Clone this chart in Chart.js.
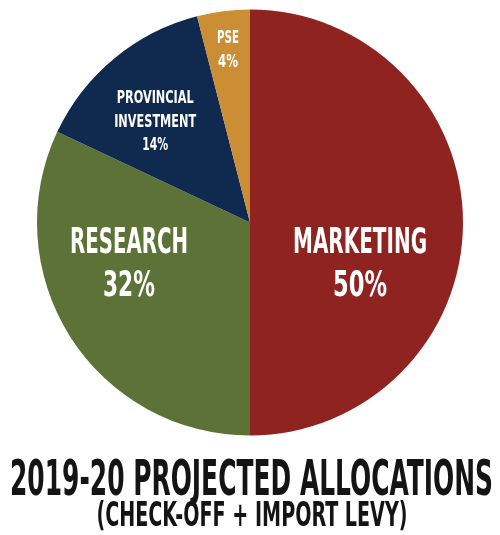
<!DOCTYPE html>
<html>
<head>
<meta charset="utf-8">
<script src="https://cdn.jsdelivr.net/npm/chart.js@4/dist/chart.umd.min.js"></script>
<style>
  html, body { margin: 0; padding: 0; background: #fff; }
  #wrap { width: 500px; height: 535px; position: relative; }
</style>
</head>
<body>
<div id="wrap"><canvas id="chart"></canvas></div>
<script>
// data
const categories = ["MARKETING", "RESEARCH", "PROVINCIAL INVESTMENT", "PSE"];
const shares = [50, 32, 14, 4];
const title = "2019-20 PROJECTED ALLOCATIONS";
const subtitle = "(CHECK-OFF + IMPORT LEVY)";

// styling
const sliceColors = ["#8e2320", "#5d7236", "#0f2a4e", "#cb8e35"];
const FONT = '"Liberation Sans Narrow", "DejaVu Sans Condensed", "Roboto", sans-serif';
// label placement: radius fraction, angle nudge from slice middle (deg), cap height, line step, fitted widths
const labelRadius = [0.549, 0.598, 0.654, 0.822];
const labelNudge = [19.8, 14.3, -3.3, 0];
const labelCap = [25.5, 25.5, 13, 12.5];
const labelStep = [43, 43, 23.5, 24];
const labelWidths = [[134, 54], [118, 52], [77, 82, 26], [22, 20]];

function fitText(ctx, text, x, y, capH, width) {
  ctx.font = "bold " + (capH / 0.716).toFixed(1) + "px " + FONT;
  const w = ctx.measureText(text).width;
  ctx.save();
  ctx.translate(x, y);
  ctx.scale(width / w, 1);
  ctx.textAlign = "center";
  ctx.textBaseline = "alphabetic";
  ctx.fillText(text, 0, 0);
  ctx.restore();
}

const sliceLabels = {
  id: "sliceLabels",
  afterDatasetsDraw(chart) {
    const ctx = chart.ctx;
    const meta = chart.getDatasetMeta(0);
    ctx.fillStyle = "#ffffff";
    meta.data.forEach((arc, i) => {
      const mid = (arc.startAngle + arc.endAngle) / 2 + labelNudge[i] * Math.PI / 180;
      const r = arc.outerRadius * labelRadius[i];
      const ax = arc.x + Math.cos(mid) * r;
      const ay = arc.y + Math.sin(mid) * r;
      const lines = categories[i].split(" ").concat([shares[i] + "%"]);
      const n = lines.length;
      lines.forEach((t, k) => {
        const by = ay - (n - 1) * labelStep[i] / 2 + k * labelStep[i] + labelCap[i] / 2;
        fitText(ctx, t, ax, by, labelCap[i], labelWidths[i][k]);
      });
    });
  },
  afterDraw(chart) {
    const ctx = chart.ctx;
    const area = chart.chartArea;
    const cx = chart.width / 2;
    ctx.fillStyle = "#141414";
    fitText(ctx, title, cx + 1.5, area.bottom + 59, 36, 483);
    fitText(ctx, subtitle, cx + 2, area.bottom + 90, 24, 311);
  }
};

new Chart(document.getElementById("chart"), {
  type: "pie",
  data: {
    labels: categories,
    datasets: [{
      data: shares,
      backgroundColor: sliceColors,
      borderWidth: 0,
      hoverOffset: 0
    }]
  },
  options: {
    responsive: true,
    maintainAspectRatio: false,
    animation: false,
    layout: { padding: { top: 9, left: 37, right: 37, bottom: 99 } },
    plugins: {
      legend: { display: false },
      tooltip: { enabled: false }
    }
  },
  plugins: [sliceLabels]
});
</script>
</body>
</html>
